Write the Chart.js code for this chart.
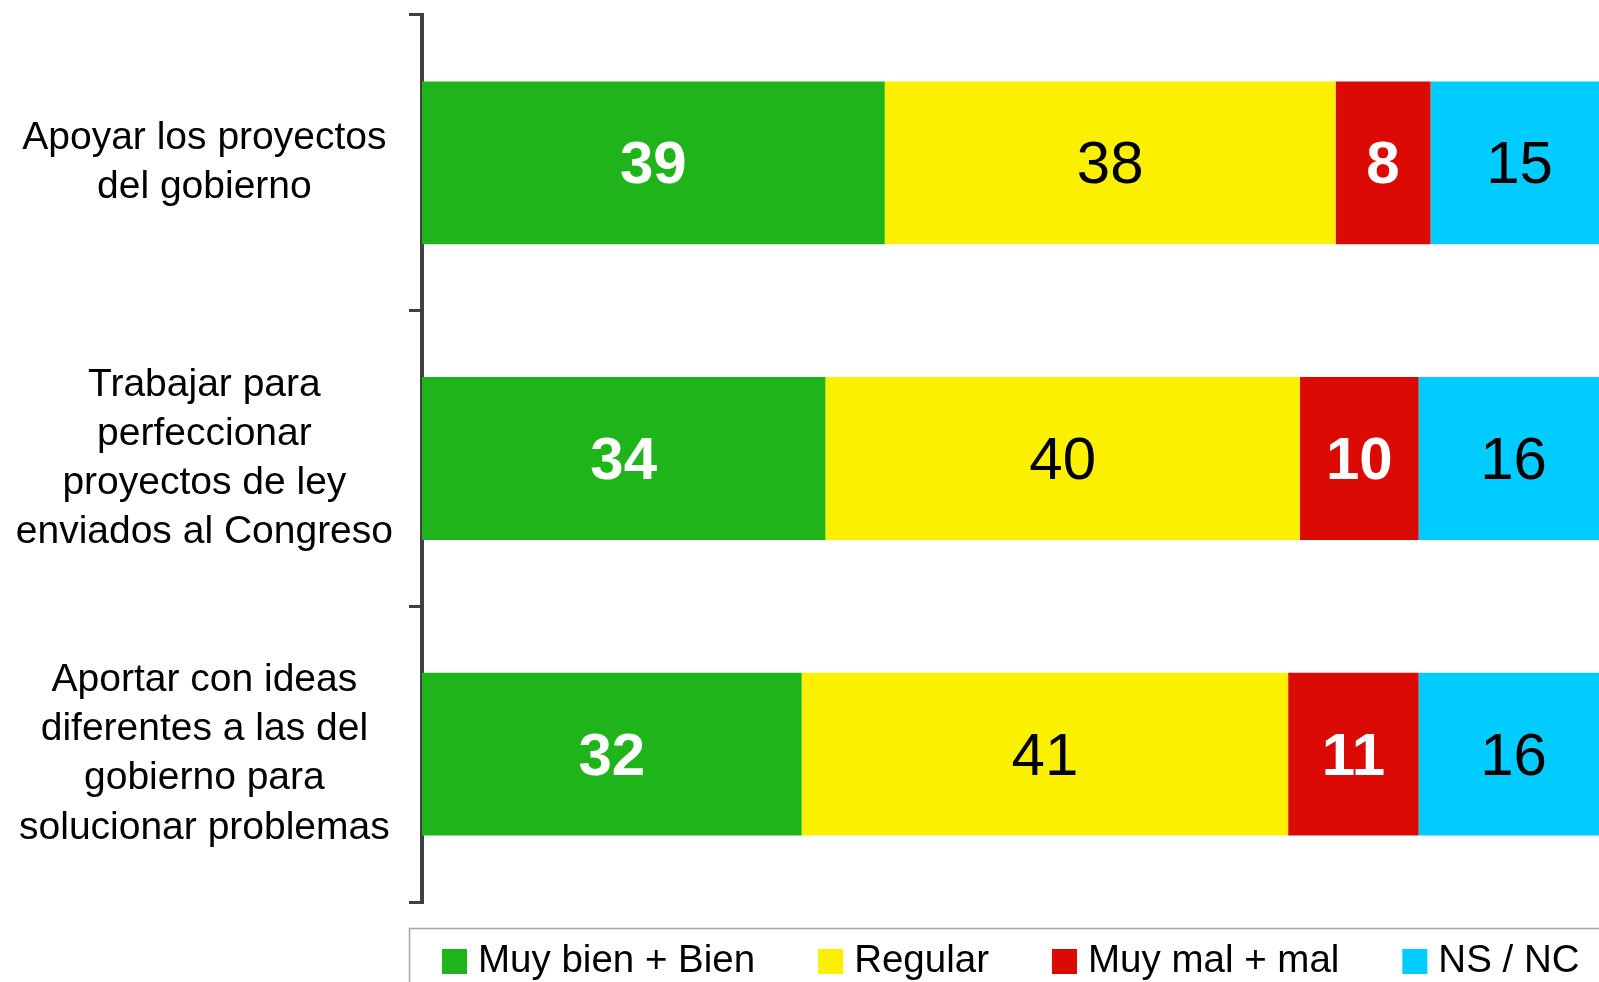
<!DOCTYPE html>
<html>
<head>
<meta charset="utf-8">
<script src="https://cdn.jsdelivr.net/npm/chart.js@4.4.1/dist/chart.umd.min.js"></script>
<style>
  html, body { margin: 0; padding: 0; background: #fff; }
  #wrap { width: 1599px; height: 982px; }
</style>
</head>
<body>
<div id="wrap"><canvas id="chart"></canvas></div>
<script>
const categories = [
  ['Apoyar los proyectos', 'del gobierno'],
  ['Trabajar para', 'perfeccionar', 'proyectos de ley', 'enviados al Congreso'],
  ['Aportar con ideas', 'diferentes a las del', 'gobierno para', 'solucionar problemas']
];
const seriesNames = ['Muy bien + Bien', 'Regular', 'Muy mal + mal', 'NS / NC'];
const muyBien = [39, 34, 32];
const regular = [38, 40, 41];
const muyMal = [8, 10, 11];
const nsnc = [15, 16, 16];

const seriesColors = ['#1fb51a', '#faf000', '#dc0a05', '#00ccff'];
const labelColors = ['#ffffff', '#000000', '#ffffff', '#000000'];
const labelBold = [true, false, true, false];
const FONT = "'Liberation Sans', Arial, Helvetica, sans-serif";
const X_MAX = 99.2;   // the right end of the 100% stack runs just past the canvas edge

// numbers in the middle of each segment
const valueLabels = {
  id: 'valueLabels',
  afterDatasetsDraw(chart) {
    const ctx = chart.ctx;
    ctx.save();
    ctx.textAlign = 'center';
    ctx.textBaseline = 'middle';
    chart.data.datasets.forEach((ds, di) => {
      const meta = chart.getDatasetMeta(di);
      ctx.font = (labelBold[di] ? 'bold ' : '') + '60px ' + FONT;
      ctx.fillStyle = labelColors[di];
      meta.data.forEach((bar, i) => {
        ctx.fillText(String(ds.data[i]), (bar.x + bar.base) / 2, bar.y + 4);
      });
    });
    ctx.restore();
  }
};

// boxed legend along the bottom
const legendBox = {
  id: 'legendBox',
  afterDraw(chart) {
    const { ctx, chartArea } = chart;
    const left = Math.round(chartArea.left - 13);
    const top = Math.round(chartArea.bottom + 26);
    ctx.save();
    ctx.strokeStyle = '#a6a6a6';
    ctx.lineWidth = 1.5;
    ctx.strokeRect(left + 0.5, top + 0.5, chart.width, chart.height);
    ctx.font = '38.5px ' + FONT;
    ctx.textBaseline = 'middle';
    ctx.textAlign = 'left';
    let x = left + 33;
    const cy = top + 33.5;
    chart.data.datasets.forEach(ds => {
      ctx.fillStyle = ds.backgroundColor;
      ctx.fillRect(x, cy - 12.5, 25, 25);
      ctx.fillStyle = '#000';
      ctx.fillText(ds.label, x + 36, cy);
      x += 36 + ctx.measureText(ds.label).width + 63;
    });
    ctx.restore();
  }
};

const seriesData = [muyBien, regular, muyMal, nsnc];

new Chart(document.getElementById('chart'), {
  type: 'bar',
  data: {
    labels: categories,
    datasets: seriesNames.map((name, i) => ({
      label: name,
      data: seriesData[i],
      backgroundColor: seriesColors[i],
      borderWidth: 0,
      barPercentage: 0.551,
      categoryPercentage: 1
    }))
  },
  options: {
    indexAxis: 'y',
    responsive: true,
    maintainAspectRatio: false,
    animation: false,
    layout: { padding: { top: 15, bottom: 80, left: 0, right: 0 } },
    plugins: {
      legend: { display: false },
      tooltip: { enabled: false }
    },
    scales: {
      x: {
        stacked: true,
        display: false,
        min: 0,
        max: X_MAX
      },
      y: {
        stacked: true,
        z: 1,
        afterFit(scale) {
          scale.width = 422;
          // labels sit inside their bands, no overflow room needed
          scale.paddingTop = 0;
          scale.paddingBottom = 0;
        },
        grid: {
          drawOnChartArea: false,
          drawTicks: true,
          tickLength: 13,
          color: '#404040',
          lineWidth: 3
        },
        border: { display: true, color: '#404040', width: 4 },
        ticks: {
          autoSkip: false,
          crossAlign: 'center',
          padding: 16,
          color: '#000',
          font: { family: FONT, size: 39, lineHeight: 1.26 }
        }
      }
    }
  },
  plugins: [valueLabels, legendBox]
});
</script>
</body>
</html>
